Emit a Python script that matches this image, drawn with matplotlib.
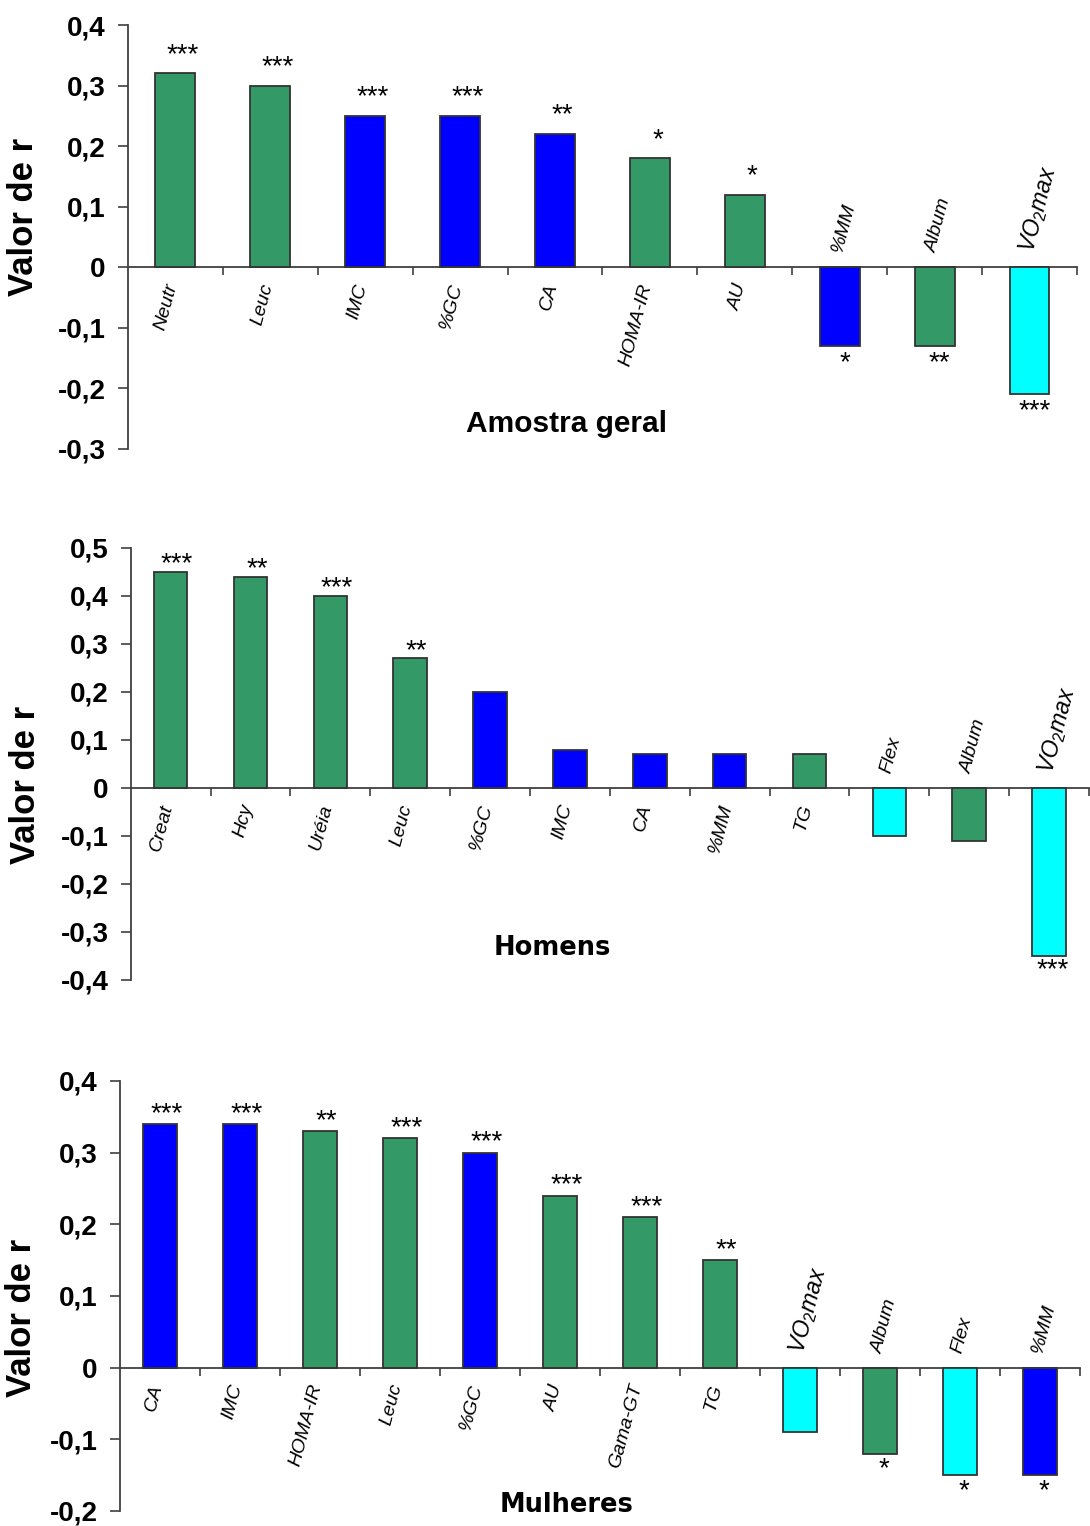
# bar charts of correlation coefficients (valor de r) for three samples
import matplotlib
matplotlib.use("Agg")
import matplotlib.pyplot as plt
import numpy as np

plt.close("all")
plt.rcParams['font.family'] = ['Liberation Sans', 'DejaVu Sans']
plt.rcParams['mathtext.fontset'] = 'custom'
plt.rcParams['mathtext.rm'] = 'Liberation Sans'
plt.rcParams['mathtext.it'] = 'Liberation Sans:italic'
plt.rcParams['mathtext.default'] = 'it'

GREEN = '#339966'
BLUE = '#0000FF'
CYAN = '#00FFFF'

# Amostra geral
geralLabels = ['Neutr', 'Leuc', 'IMC', '%GC', 'CA', 'HOMA-IR', 'AU', '%MM', 'Album', r'VO$_2$max']
geralValues = [0.32, 0.30, 0.25, 0.25, 0.22, 0.18, 0.12, -0.13, -0.13, -0.21]
geralColors = ['g', 'g', 'b', 'b', 'b', 'g', 'g', 'b', 'g', 'c']
geralStars = ['***', '***', '***', '***', '**', '*', '*', '*', '**', '***']
geralTicks = [0.4, 0.3, 0.2, 0.1, 0, -0.1, -0.2, -0.3]

# Homens
homensLabels = ['Creat', 'Hcy', 'Uréia', 'Leuc', '%GC', 'IMC', 'CA', '%MM', 'TG', 'Flex', 'Album', r'VO$_2$max']
homensValues = [0.45, 0.44, 0.40, 0.27, 0.20, 0.08, 0.07, 0.07, 0.07, -0.10, -0.11, -0.35]
homensColors = ['g', 'g', 'g', 'g', 'b', 'b', 'b', 'b', 'g', 'c', 'g', 'c']
homensStars = ['***', '**', '***', '**', '', '', '', '', '', '', '', '***']
homensTicks = [0.5, 0.4, 0.3, 0.2, 0.1, 0, -0.1, -0.2, -0.3, -0.4]

# Mulheres
mulheresLabels = ['CA', 'IMC', 'HOMA-IR', 'Leuc', '%GC', 'AU', 'Gama-GT', 'TG', r'VO$_2$max', 'Album', 'Flex', '%MM']
mulheresValues = [0.34, 0.34, 0.33, 0.32, 0.30, 0.24, 0.21, 0.15, -0.09, -0.12, -0.15, -0.15]
mulheresColors = ['b', 'b', 'g', 'g', 'b', 'g', 'g', 'g', 'c', 'g', 'c', 'b']
mulheresStars = ['***', '***', '**', '***', '***', '***', '***', '**', '', '*', '*', '*']
mulheresTicks = [0.4, 0.3, 0.2, 0.1, 0, -0.1, -0.2]

colorMap = {'g': GREEN, 'b': BLUE, 'c': CYAN}


def fmt(v):
    if v == 0:
        return '0'
    return ('%.1f' % v).replace('.', ',')


def panel(ax, labels, values, colors, stars, ticks, title, titlePos, titleSize, titleFont,
          ylabelPos, starUp, starDown):
    n = len(values)
    x = np.arange(n)
    ax.bar(x, values, width=0.42, color=[colorMap[c] for c in colors],
           edgecolor='#333333', linewidth=1.3, zorder=3)

    ax.set_xlim(-0.5, n - 0.5)
    ax.set_ylim(min(ticks), max(ticks))
    ax.set_yticks(ticks)
    ax.set_yticklabels([fmt(t) for t in ticks], fontsize=20, fontweight='bold')
    ax.tick_params(axis='y', direction='out', length=7, width=1.2, color='#404040', pad=9)

    ax.spines['top'].set_visible(False)
    ax.spines['right'].set_visible(False)
    ax.spines['bottom'].set_position(('data', 0))
    for s in ['left', 'bottom']:
        ax.spines[s].set_color('#404040')
        ax.spines[s].set_linewidth(1.3)
    ax.set_xticks(np.arange(n) + 0.5)
    ax.set_xticklabels([])
    ax.tick_params(axis='x', direction='out', length=6, width=1.2, color='#404040')

    for i in range(n):
        v = values[i]
        lab = labels[i]
        fs = 16.5 if 'VO' in lab else 14
        if v >= 0:
            ax.annotate(lab, xy=(i, 0), xytext=(-2, -12), textcoords='offset points',
                        rotation=75, rotation_mode='anchor', ha='right', va='center',
                        fontsize=fs, style='italic')
        else:
            ax.annotate(lab, xy=(i, 0), xytext=(-2, 11), textcoords='offset points',
                        rotation=75, rotation_mode='anchor', ha='left', va='center',
                        fontsize=fs, style='italic')
        if stars[i]:
            if v >= 0:
                ax.annotate(stars[i], xy=(i + 0.08, v), xytext=(0, starUp), textcoords='offset points',
                            ha='center', va='bottom', fontsize=20)
            else:
                ax.annotate(stars[i], xy=(i + 0.05, v), xytext=(0, -starDown), textcoords='offset points',
                            ha='center', va='top', fontsize=20)

    ax.text(titlePos[0], titlePos[1], title, transform=ax.transAxes, ha='center', va='center',
            fontsize=titleSize, fontweight='bold', family=titleFont)
    ax.set_ylabel('Valor de r', fontsize=25, fontweight='bold')
    ax.yaxis.set_label_coords(ylabelPos[0], ylabelPos[1])


fig = plt.figure(figsize=(10.9, 15.26), dpi=100)

ax1 = fig.add_axes([0.1174, 0.7058, 0.8706, 0.2778])
panel(ax1, geralLabels, geralValues, geralColors, geralStars, geralTicks,
      'Amostra geral', (0.4626, 0.059), 21.5, 'Liberation Sans', (-0.093, 0.547), 4, 3)

ax2 = fig.add_axes([0.120, 0.3578, 0.879, 0.2831])
panel(ax2, homensLabels, homensValues, homensColors, homensStars, homensTicks,
      'Homens', (0.44, 0.074), 18.5, 'DejaVu Sans', (-0.093, 0.451), -4, 1)

ax3 = fig.add_axes([0.110, 0.00983, 0.881, 0.2818])
panel(ax3, mulheresLabels, mulheresValues, mulheresColors, mulheresStars, mulheresTicks,
      'Mulheres', (0.465, 0.014), 18.5, 'DejaVu Sans', (-0.085, 0.449), -2, 2)

fig.savefig('out.png', dpi=100)
